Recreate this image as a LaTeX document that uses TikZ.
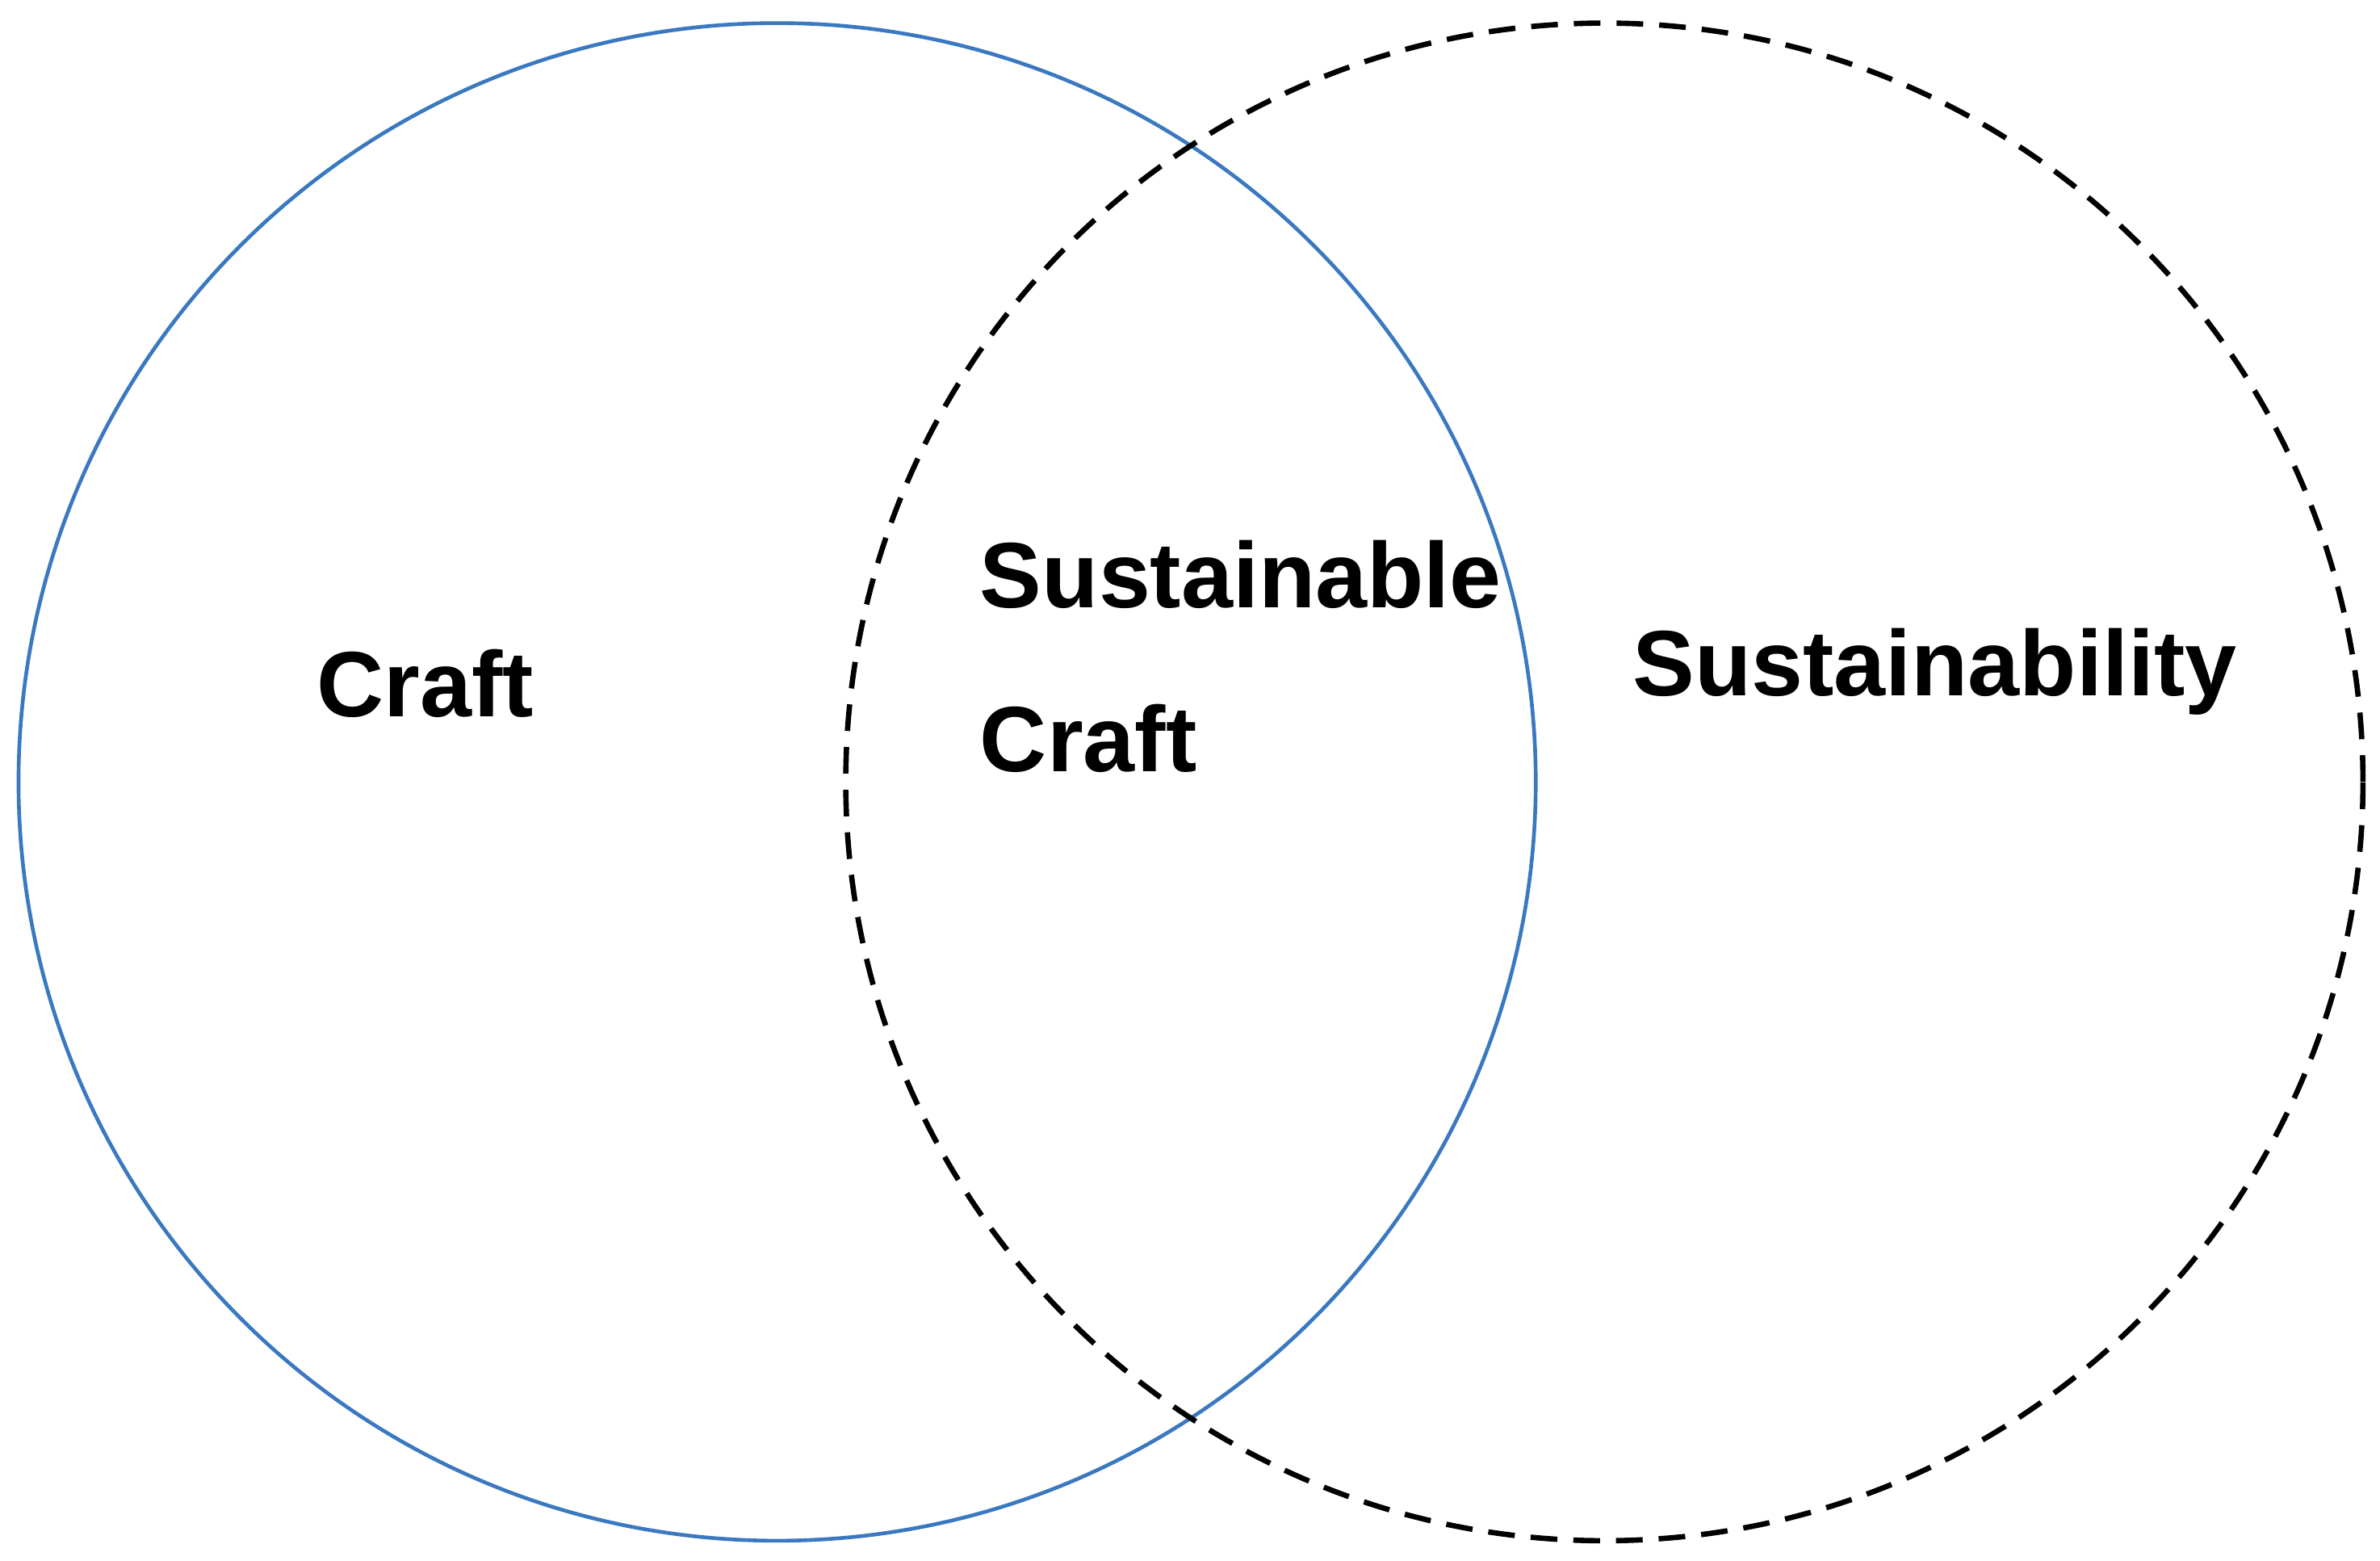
\documentclass[tikz,border=0pt]{standalone}
\usepackage{fontspec}
\setmainfont{Liberation Sans}
\definecolor{cblue}{HTML}{3A78C0}
\begin{document}
\begin{tikzpicture}[x=0.01cm,y=-0.01cm,
  lbl/.style={anchor=base west,inner sep=0pt,font=\fontsize{17.4pt}{21pt}\selectfont\bfseries}]
\useasboundingbox (0,0) rectangle (1568,1028);
\node[draw=cblue,line width=0.7pt,circle,minimum size=9.99cm,inner sep=0pt] (craftc) at (512,515) {};
\node[draw=black,line width=1pt,dash pattern=on 5pt off 3pt,circle,minimum size=9.99cm,inner sep=0pt] (susc) at (1057,515) {};
\node[lbl] (craft) at (208,472) {Craft};
\node[lbl] (sc1) at (645,400) {Sustainable};
\node[lbl] (sc2) at (645,508) {Craft};
\node[lbl] (sus) at (1075,458) {Sustainability};
\end{tikzpicture}
\end{document}
